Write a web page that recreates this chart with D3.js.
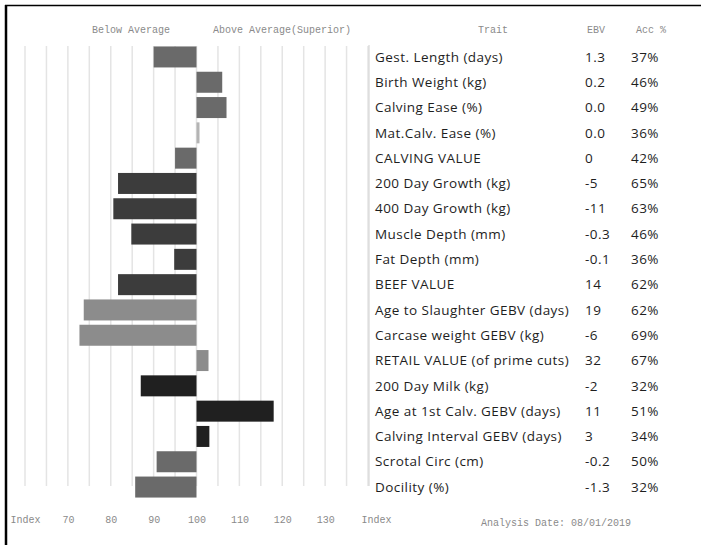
<!DOCTYPE html>
<html>
<head>
<meta charset="utf-8">
<script src="https://cdn.jsdelivr.net/npm/d3@7"></script>
<style>
  body { margin: 0; background: #fff; }
  svg { display: block; }
  .mono { font-family: "Liberation Mono", "DejaVu Sans Mono", monospace; font-size: 10px; fill: #8a8a8a; }
  .cell { font-family: "Open Sans", sans-serif; font-size: 13.5px; font-weight: 500; letter-spacing: 0.45px; fill: #1e1e1e; }
</style>
</head>
<body>
<div id="chart"></div>
<script>
const traits = [
  "Gest. Length (days)", "Birth Weight (kg)", "Calving Ease (%)", "Mat.Calv. Ease (%)",
  "CALVING VALUE", "200 Day Growth (kg)", "400 Day Growth (kg)", "Muscle Depth (mm)",
  "Fat Depth (mm)", "BEEF VALUE", "Age to Slaughter GEBV (days)", "Carcase weight GEBV (kg)",
  "RETAIL VALUE (of prime cuts)", "200 Day Milk (kg)", "Age at 1st Calv. GEBV (days)",
  "Calving Interval GEBV (days)", "Scrotal Circ (cm)", "Docility (%)"
];
const indexValues = [90, 106, 107, 100.7, 95, 81.7, 80.6, 84.8, 94.8, 81.7, 73.7, 72.7, 102.8, 87, 118, 103, 90.7, 85.7];
const ebv = ["1.3", "0.2", "0.0", "0.0", "0", "-5", "-11", "-0.3", "-0.1", "14", "19", "-6", "32", "-2", "11", "3", "-0.2", "-1.3"];
const acc = ["37%", "46%", "49%", "36%", "42%", "65%", "63%", "46%", "36%", "62%", "62%", "69%", "67%", "32%", "51%", "34%", "50%", "32%"];
const shade = ["mid", "mid", "mid", "pale", "mid", "dark", "dark", "dark", "dark", "dark",
  "light", "light", "light", "black", "black", "black", "mid", "mid"];
const tickValues = [60, 70, 80, 90, 100, 110, 120, 130, 140];
const gridValues = d3.range(60, 141, 5);

const W = 701, H = 545;

const svg = d3.select("#chart").append("svg")
  .attr("width", W)
  .attr("height", H);

const x = d3.scaleLinear().domain([60, 140]).range([25, 368]);
const y = d3.scaleBand().domain(traits).range([44.3, 499.7]).paddingInner(0.17).paddingOuter(0.085);
const colour = d3.scaleOrdinal()
  .domain(["mid", "pale", "dark", "light", "black"])
  .range(["#6a6a6a", "#b4b4b4", "#3c3c3c", "#8c8c8c", "#202020"]);

// frame
svg.append("line").attr("x1", 6).attr("x2", 6).attr("y1", 5).attr("y2", H).attr("stroke", "#000").attr("stroke-width", 2.5);
svg.append("line").attr("x1", 5).attr("x2", W).attr("y1", 5.5).attr("y2", 5.5).attr("stroke", "#000").attr("stroke-width", 1.5);

// gridlines
svg.selectAll("line.grid")
  .data(gridValues)
  .enter()
  .append("line")
  .attr("class", "grid")
  .attr("x1", (d) => x(d))
  .attr("x2", (d) => x(d))
  .attr("y1", 46)
  .attr("y2", 486)
  .attr("stroke", "#e4e4e4")
  .attr("stroke-width", 1.5);

// bars
svg.selectAll("rect.bar")
  .data(traits)
  .enter()
  .append("rect")
  .attr("class", "bar")
  .attr("x", (d, i) => x(Math.min(100, indexValues[i])))
  .attr("width", (d, i) => Math.abs(x(indexValues[i]) - x(100)))
  .attr("y", (d) => y(d))
  .attr("height", y.bandwidth())
  .attr("fill", (d, i) => colour(shade[i]));

// headers
svg.append("text").attr("class", "mono").attr("x", 131).attr("y", 33).attr("text-anchor", "middle").text("Below Average");
svg.append("text").attr("class", "mono").attr("x", 282).attr("y", 33).attr("text-anchor", "middle").text("Above Average(Superior)");
svg.append("text").attr("class", "mono").attr("x", 493).attr("y", 33).attr("text-anchor", "middle").text("Trait");
svg.append("text").attr("class", "mono").attr("x", 587).attr("y", 33).text("EBV");
svg.append("text").attr("class", "mono").attr("x", 636).attr("y", 33).text("Acc %");

// bottom axis
const axis = d3.axisBottom(x)
  .tickValues(tickValues)
  .tickSize(0)
  .tickFormat((d) => (d === 60 || d === 140 ? "Index" : d));
const ax = svg.append("g").attr("transform", "translate(0,513)").call(axis);
ax.select(".domain").remove();
ax.selectAll("text").attr("class", "mono").attr("font-family", null).attr("font-size", null).attr("fill", null);
ax.selectAll("text").filter((d) => d === 140).attr("dx", 8);

svg.append("text").attr("class", "mono").attr("x", 556).attr("y", 526).attr("text-anchor", "middle").text("Analysis Date: 08/01/2019");

// table divider
svg.append("line").attr("x1", 369).attr("x2", 369).attr("y1", 45).attr("y2", 486).attr("stroke", "#d0d0d0").attr("stroke-width", 1);

// table rows
const rows = svg.selectAll("g.row")
  .data(traits)
  .enter()
  .append("g")
  .attr("class", "row")
  .attr("transform", (d) => "translate(0," + (y(d) + y.bandwidth() / 2) + ")");
rows.append("text").attr("class", "cell").attr("x", 375).attr("dy", "0.35em").text((d) => d);
rows.append("text").attr("class", "cell").attr("x", 585).attr("dy", "0.35em").text((d, i) => ebv[i]);
rows.append("text").attr("class", "cell").attr("x", 631).attr("dy", "0.35em").text((d, i) => acc[i]);
</script>
</body>
</html>
